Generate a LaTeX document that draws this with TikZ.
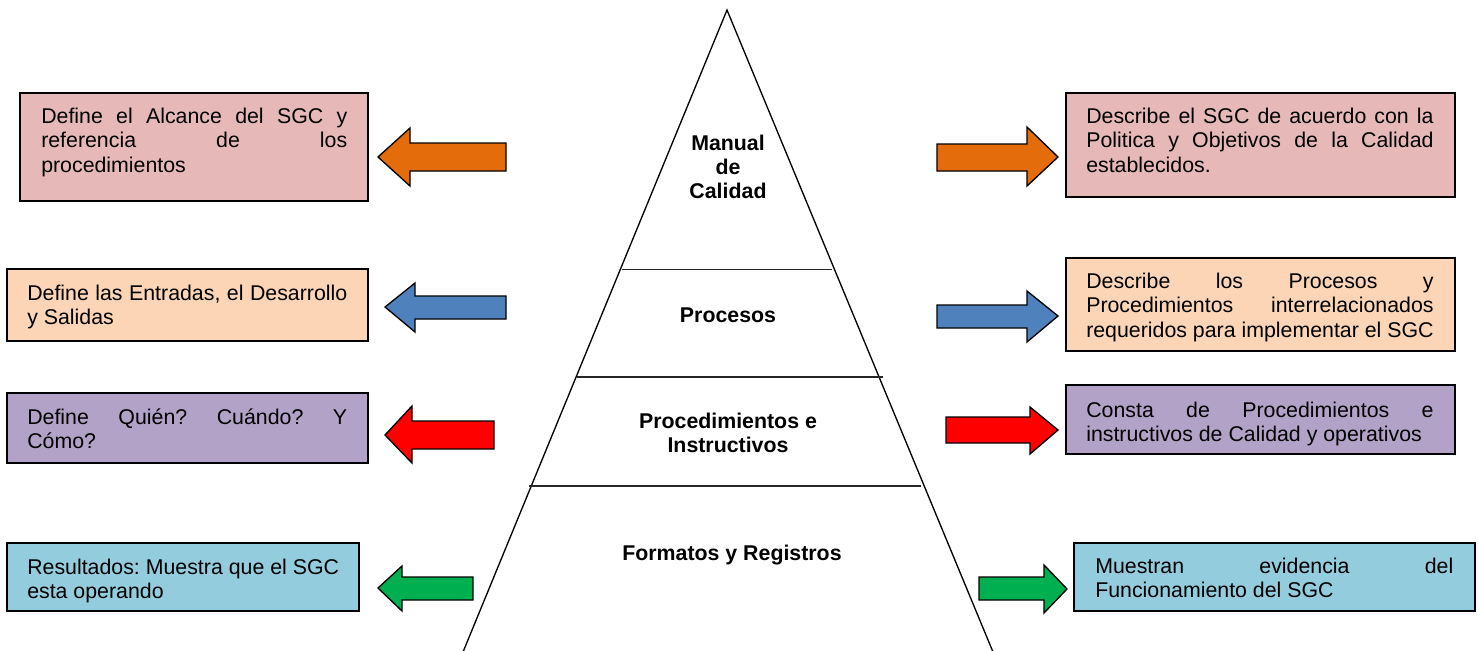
\documentclass[tikz,border=0pt]{standalone}
\usepackage{fontspec}
\setmainfont{Liberation Sans}
\usetikzlibrary{fit}
\definecolor{cpink}{HTML}{E6B9B8}
\definecolor{cpeach}{HTML}{FBD5B5}
\definecolor{cpurple}{HTML}{B3A2C7}
\definecolor{ccyan}{HTML}{93CDDD}
\definecolor{corange}{HTML}{E46C0A}
\definecolor{cblue}{HTML}{4F81BD}
\definecolor{cred}{HTML}{FF0000}
\definecolor{cgreen}{HTML}{00B050}
\frenchspacing
\newcommand{\jline}[1]{\makebox[\linewidth][s]{#1}}
\newcommand{\btext}[2]{\parbox[t]{#1}{\frenchspacing\fontsize{16pt}{18.4pt}\selectfont #2}}
\begin{document}
\begin{tikzpicture}[x=0.75pt,y=-0.75pt,
  box/.style={draw=black, line width=1.3pt, inner sep=0pt},
  txt/.style={anchor=base west, inner sep=0pt},
  lbl/.style={inner sep=0pt, align=center, font=\fontsize{16pt}{18pt}\selectfont\bfseries},
  blockarrow/.style={draw=black, line width=1pt, line join=miter},
  pyr/.style={draw=black, line width=1pt},
  tier/.style={draw=black!85, line width=0.9pt}]
\useasboundingbox (0,0) rectangle (1478,650);

% pyramid
\begin{scope}
\clip (0,0) rectangle (1478,650);
\coordinate (apex) at (727,10);
\coordinate (bl) at (463,652);
\coordinate (br) at (993,652);
\draw[pyr] (bl) -- (apex) -- (br);
\coordinate (t1l) at (622,269.5); \coordinate (t1r) at (832,269.5);
\coordinate (t2l) at (577,377);   \coordinate (t2r) at (883,377);
\coordinate (t3l) at (529,486);   \coordinate (t3r) at (921,486);
\draw[tier] (t1l) -- (t1r);
\draw[tier] (t2l) -- (t2r);
\draw[tier] (t3l) -- (t3r);
\end{scope}
\node[lbl] (pMan) at (728,167) {Manual\\de\\Calidad};
\node[lbl] (pPro) at (728,315) {Procesos};
\node[lbl] (pIns) at (728,433) {Procedimientos e\\Instructivos};
\node[lbl] (pFor) at (732,555) {Formatos y Registros};

% left boxes
\node[box, fill=cpink,   fit={(20,93) (368,201)}] (bL1) {};
\node[box, fill=cpeach,  fit={(7,269) (368,341)}] (bL2) {};
\node[box, fill=cpurple, fit={(7,393) (368,463)}] (bL3) {};
\node[box, fill=ccyan,   fit={(7,543) (359,611)}] (bL4) {};
% right boxes
\node[box, fill=cpink,   fit={(1066,93) (1455,197)}] (bR1) {};
\node[box, fill=cpeach,  fit={(1066,258) (1455,351)}] (bR2) {};
\node[box, fill=cpurple, fit={(1066,385) (1455,454)}] (bR3) {};
\node[box, fill=ccyan,   fit={(1074,543) (1475,611)}] (bR4) {};

% texts
\node[txt] (tL1) at (41,123) {\btext{229.5pt}{\jline{Define el Alcance del SGC y}\\\jline{referencia de los}\\procedimientos}};
\node[txt] (tL2) at (27,300) {\btext{240pt}{\jline{Define las Entradas, el Desarrollo}\\y Salidas}};
\node[txt] (tL3) at (27,424) {\btext{240pt}{\jline{Define Quién? Cuándo? Y}\\Cómo?}};
\node[txt] (tL4) at (27,574) {\btext{240pt}{Resultados: Muestra que el SGC\\esta operando}};
\node[txt] (tR1) at (1086,123) {\btext{260.5pt}{\jline{Describe el SGC de acuerdo con la}\\\jline{Politica y Objetivos de la Calidad}\\establecidos.}};
\node[txt] (tR2) at (1086,288) {\btext{260.5pt}{\jline{Describe los Procesos y}\\\jline{Procedimientos interrelacionados}\\requeridos para implementar el SGC}};
\node[txt] (tR3) at (1086,417) {\btext{260.5pt}{\jline{Consta de Procedimientos e}\\instructivos de Calidad y operativos}};
\node[txt] (tR4) at (1095,573) {\btext{268.5pt}{\jline{Muestran evidencia del}\\Funcionamiento del SGC}};

% left arrows
\path[blockarrow, fill=corange] (378,157) -- (410,128) -- (410,143) -- (506,143) -- (506,171) -- (410,171) -- (410,186) -- cycle;
\path[blockarrow, fill=cblue]   (385,307) -- (415,283) -- (415,296) -- (506,296) -- (506,319) -- (415,319) -- (415,332) -- cycle;
\path[blockarrow, fill=cred]    (385,435) -- (412,406) -- (412,421) -- (494,421) -- (494,449) -- (412,449) -- (412,463) -- cycle;
\path[blockarrow, fill=cgreen]  (378,588) -- (402,566) -- (402,577) -- (473,577) -- (473,600) -- (402,600) -- (402,611) -- cycle;
% right arrows
\path[blockarrow, fill=corange] (1058,157) -- (1027,127) -- (1027,144) -- (937,144) -- (937,171) -- (1027,171) -- (1027,186) -- cycle;
\path[blockarrow, fill=cblue]   (1058,316) -- (1027,291) -- (1027,305) -- (937,305) -- (937,328) -- (1027,328) -- (1027,342) -- cycle;
\path[blockarrow, fill=cred]    (1058,430) -- (1030,407) -- (1030,417) -- (946,417) -- (946,443) -- (1030,443) -- (1030,454) -- cycle;
\path[blockarrow, fill=cgreen]  (1067,589) -- (1044,565) -- (1044,577) -- (979,577) -- (979,600) -- (1044,600) -- (1044,613) -- cycle;
\end{tikzpicture}
\end{document}
